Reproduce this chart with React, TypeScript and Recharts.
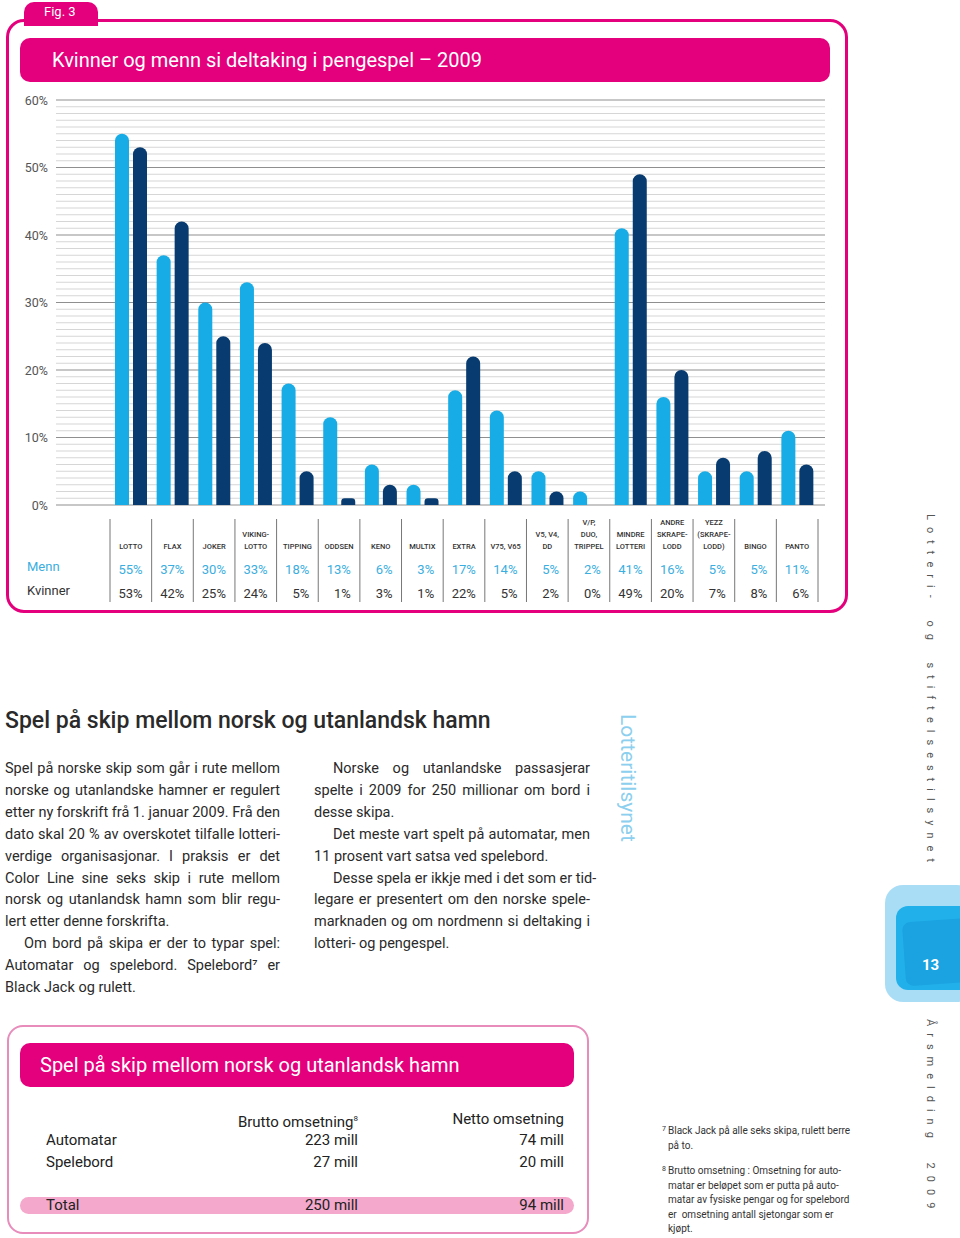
import React from 'react';
import { ComposedChart, Bar, XAxis, YAxis, CartesianGrid } from 'recharts';

// Kategoriar (linjeskift = ny linje i etiketten)
const categories = [
  'LOTTO', 'FLAX', 'JOKER', 'VIKING-\nLOTTO', 'TIPPING', 'ODDSEN', 'KENO', 'MULTIX', 'EXTRA',
  'V75, V65', 'V5, V4,\nDD', 'V/P,\nDUO,\nTRIPPEL', 'MINDRE\nLOTTERI', 'ANDRE\nSKRAPE-\nLODD',
  'YEZZ\n(SKRAPE-\nLODD)', 'BINGO', 'PANTO'
];
const menn = [55, 37, 30, 33, 18, 13, 6, 3, 17, 14, 5, 2, 41, 16, 5, 5, 11];
const kvinner = [53, 42, 25, 24, 5, 1, 3, 1, 22, 5, 2, 0, 49, 20, 7, 8, 6];
// rutenett kvar prosent, etikett kvar tiande
const yTicks = Array.from({ length: 61 }, (_, i) => i);

// Tabell: spel på skip
const tableRows = ['Automatar', 'Spelebord'];
const brutto = ['223 mill', '27 mill'];
const netto = ['74 mill', '20 mill'];
const totalRow = { label: 'Total', brutto: '250 mill', netto: '94 mill' };

const data = categories.map((c, i) => ({ cat: c, menn: menn[i], kvinner: kvinner[i] }));

const MAGENTA = '#e4007c';
const LIGHT = '#17ace6';
const DARK = '#083b70';
const FONT = "Roboto, 'Noto Sans', sans-serif";

const CategoryTick = (props: any) => {
  const { x, y, payload } = props;
  const i = payload.index;
  const half = payload.offset || 20.8;
  const lines = categories[i].split('\n');
  const last = i === categories.length - 1;
  return (
    <g>
      <line x1={x - half} x2={x - half} y1={y + 12} y2={y + 95} stroke="#777" strokeWidth={1} />
      {last && <line x1={x + half} x2={x + half} y1={y + 12} y2={y + 95} stroke="#777" strokeWidth={1} />}
      {lines.map((l, k) => (
        <text key={k} x={x} y={y + 42 - (lines.length - 1 - k) * 12} textAnchor="middle"
          fontSize={7.5} fontWeight={500} fill="#333" fontFamily={FONT}>{l}</text>
      ))}
      <text x={x + half - 9} y={y + 67} textAnchor="end" fontSize={13} fill="#3aaee0" fontFamily={FONT}>{menn[i]}%</text>
      <text x={x + half - 9} y={y + 91} textAnchor="end" fontSize={13} fill="#333" fontFamily={FONT}>{kvinner[i]}%</text>
    </g>
  );
};

const PercentTick = (props: any) => {
  const { x, y, payload } = props;
  if (payload.value % 10 !== 0) return <g />;
  return (
    <text x={x} y={y} dy={4.5} textAnchor="end" fontSize={12.5} fill="#555" fontFamily={FONT}>{payload.value}%</text>
  );
};

const GridLine = (props: any) => {
  const major = props.index % 10 === 0;
  return (
    <line x1={props.x1} x2={props.x2} y1={props.y1} y2={props.y2}
      stroke={major ? '#8f8f8f' : '#d6d6d6'} strokeWidth={1.2} />
  );
};

const leftLines: [string, boolean, boolean][] = [
  ['Spel på norske skip som går i rute mellom', false, false],
  ['norske og utanlandske hamner er regulert', false, false],
  ['etter ny forskrift frå 1. januar 2009. Frå den', false, false],
  ['dato skal 20 % av overskotet tilfalle lotteri-', false, false],
  ['verdige organisasjonar. I praksis er det', false, false],
  ['Color Line sine seks skip i rute mellom', false, false],
  ['norsk og utanlandsk hamn som blir regu-', false, false],
  ['lert etter denne forskrifta.', false, true],
  ['Om bord på skipa er der to typar spel:', true, false],
  ['Automatar og spelebord. Spelebord⁷ er', false, false],
  ['Black Jack og rulett.', false, true],
];
const rightLines: [string, boolean, boolean][] = [
  ['Norske og utanlandske passasjerar', true, false],
  ['spelte i 2009 for 250 millionar om bord i', false, false],
  ['desse skipa.', false, true],
  ['Det meste vart spelt på automatar, men', true, false],
  ['11 prosent vart satsa ved spelebord.', false, true],
  ['Desse spela er ikkje med i det som er tid-', true, false],
  ['legare er presentert om den norske spele-', false, false],
  ['marknaden og om nordmenn si deltaking i', false, false],
  ['lotteri- og pengespel.', false, true],
];

const Column = ({ lines, left, width }: { lines: [string, boolean, boolean][]; left: number; width: number }) => (
  <div style={{ position: 'absolute', left, top: 758, width, fontSize: 14.5, lineHeight: '21.9px', color: '#2a2a2a' }}>
    {lines.map(([t, indent, last], k) => (
      <div key={k} style={{ paddingLeft: indent ? 19 : 0, textAlign: 'justify', textAlignLast: last ? 'left' : 'justify', whiteSpace: 'nowrap' }}>{t}</div>
    ))}
  </div>
);

const footLines = [
  { sup: '7', text: 'Black Jack på alle seks skipa, rulett berre', top: 1124 },
  { sup: '', text: 'på to.', top: 1139 },
  { sup: '8', text: 'Brutto omsetning : Omsetning for auto-', top: 1164 },
  { sup: '', text: 'matar er beløpet som er putta på auto-', top: 1178.5 },
  { sup: '', text: 'matar av fysiske pengar og for spelebord', top: 1193 },
  { sup: '', text: 'er  omsetning antall sjetongar som er', top: 1207.5 },
  { sup: '', text: 'kjøpt.', top: 1222 },
];

const App = () => {
  return (
    <div style={{ position: 'absolute', left: 0, top: 0, width: 960, height: 1238, background: '#fff', overflow: 'hidden', fontFamily: FONT }}>
      {/* Fig. tab + ramme */}
      <div style={{ position: 'absolute', left: 24, top: 2, width: 74, height: 24, background: MAGENTA, borderRadius: '10px 10px 0 0' }} />
      <div style={{ position: 'absolute', left: 44, top: 3, fontSize: 13, color: '#fff', lineHeight: '17px' }}>Fig. 3</div>
      <div style={{ position: 'absolute', left: 6, top: 19, width: 836, height: 588, border: `3px solid ${MAGENTA}`, borderRadius: 18 }} />
      <div style={{ position: 'absolute', left: 20, top: 38, width: 810, height: 44, background: MAGENTA, borderRadius: 10 }} />
      <div style={{ position: 'absolute', left: 52, top: 47, fontSize: 20, color: '#fff', lineHeight: '26px' }}>Kvinner og menn si deltaking i pengespel – 2009</div>

      {/* Diagram */}
      <div style={{ position: 'absolute', left: 0, top: 90 }}>
        <ComposedChart width={830} height={520} data={data} margin={{ top: 10, right: 5, left: 0, bottom: 0 }}
          barSize={14} barGap={4}>
          <YAxis domain={[0, 60]} ticks={yTicks} interval={0} width={56} axisLine={false} tickLine={false}
            tick={<PercentTick />} />
          <XAxis dataKey="cat" interval={0} height={105} axisLine={false} tickLine={false} tickSize={0}
            padding={{ left: 54, right: 7 }} tick={<CategoryTick />} />
          <CartesianGrid vertical={false} horizontal={(p: any) => <GridLine key={p.key} {...p} />} />
          <Bar dataKey="menn" fill={LIGHT} radius={[7, 7, 0, 0]} isAnimationActive={false} />
          <Bar dataKey="kvinner" fill={DARK} radius={[7, 7, 0, 0]} isAnimationActive={false} />
        </ComposedChart>
      </div>
      <div style={{ position: 'absolute', left: 27, top: 559, fontSize: 13, color: '#3aaee0', lineHeight: '16px' }}>Menn</div>
      <div style={{ position: 'absolute', left: 27, top: 583, fontSize: 13, color: '#333', lineHeight: '16px' }}>Kvinner</div>

      {/* Tekst */}
      <div style={{ position: 'absolute', left: 5, top: 706, fontSize: 23, color: '#2a2a2a', lineHeight: '30px', fontWeight: 500 }}>Spel på skip mellom norsk og utanlandsk hamn</div>
      <Column lines={leftLines} left={5} width={275} />
      <Column lines={rightLines} left={314} width={276} />
      <div style={{ position: 'absolute', left: 617, top: 714, writingMode: 'vertical-rl', fontSize: 21, color: '#8ccfee', lineHeight: '22px' }}>Lotteritilsynet</div>

      {/* Høgre marg */}
      <div style={{ position: 'absolute', left: 922, top: 514, writingMode: 'vertical-rl', fontSize: 11, color: '#555', letterSpacing: 7, wordSpacing: 6, lineHeight: '16px' }}>Lotteri- og stiftelsestilsynet</div>
      <div style={{ position: 'absolute', left: 885, top: 885, width: 90, height: 117, background: '#a9ddf5', borderRadius: 18 }} />
      <div style={{ position: 'absolute', left: 896, top: 906, width: 80, height: 84, background: '#22b0ea', borderRadius: 12 }} />
      <div style={{ position: 'absolute', left: 904, top: 920, width: 70, height: 64, background: '#1aa3e0', borderRadius: 8, transform: 'rotate(-4deg)' }} />
      <div style={{ position: 'absolute', left: 922, top: 955, fontSize: 15, fontWeight: 700, color: '#fff', lineHeight: '20px' }}>13</div>
      <div style={{ position: 'absolute', left: 922, top: 1019, writingMode: 'vertical-rl', fontSize: 11, color: '#555', letterSpacing: 7, wordSpacing: 8, lineHeight: '16px' }}>Årsmelding 2009</div>

      {/* Tabellboks */}
      <div style={{ position: 'absolute', left: 7, top: 1025, width: 578, height: 205, border: '2px solid #e88cbb', borderRadius: 16 }} />
      <div style={{ position: 'absolute', left: 20, top: 1043, width: 554, height: 44, background: MAGENTA, borderRadius: 10 }} />
      <div style={{ position: 'absolute', left: 40, top: 1052, fontSize: 20, color: '#fff', lineHeight: '26px' }}>Spel på skip mellom norsk og utanlandsk hamn</div>
      <div style={{ position: 'absolute', left: 158, width: 200, top: 1109, fontSize: 15, color: '#222', textAlign: 'right', lineHeight: '20px' }}>
        Brutto omsetning<sup style={{ fontSize: 8 }}>8</sup>
      </div>
      <div style={{ position: 'absolute', left: 364, width: 200, top: 1109, fontSize: 15, color: '#222', textAlign: 'right', lineHeight: '20px' }}>Netto omsetning</div>
      {tableRows.map((r, k) => (
        <React.Fragment key={r}>
          <div style={{ position: 'absolute', left: 46, top: 1130 + k * 22, fontSize: 15, color: '#222', lineHeight: '20px' }}>{r}</div>
          <div style={{ position: 'absolute', left: 158, width: 200, top: 1130 + k * 22, fontSize: 15, color: '#222', textAlign: 'right', lineHeight: '20px' }}>{brutto[k]}</div>
          <div style={{ position: 'absolute', left: 364, width: 200, top: 1130 + k * 22, fontSize: 15, color: '#222', textAlign: 'right', lineHeight: '20px' }}>{netto[k]}</div>
        </React.Fragment>
      ))}
      <div style={{ position: 'absolute', left: 20, top: 1197, width: 554, height: 17, background: '#f3a8cc', borderRadius: 9 }} />
      <div style={{ position: 'absolute', left: 46, top: 1195, fontSize: 15, color: '#222', lineHeight: '20px' }}>{totalRow.label}</div>
      <div style={{ position: 'absolute', left: 158, width: 200, top: 1195, fontSize: 15, color: '#222', textAlign: 'right', lineHeight: '20px' }}>{totalRow.brutto}</div>
      <div style={{ position: 'absolute', left: 364, width: 200, top: 1195, fontSize: 15, color: '#222', textAlign: 'right', lineHeight: '20px' }}>{totalRow.netto}</div>

      {/* Fotnotar */}
      {footLines.map((f, k) => (
        <div key={k} style={{ position: 'absolute', left: 668, top: f.top, fontSize: 10, color: '#333', lineHeight: '14px', whiteSpace: 'pre' }}>
          {f.sup && <span style={{ position: 'absolute', left: -6, top: -2, fontSize: 7 }}>{f.sup}</span>}
          {f.text}
        </div>
      ))}
    </div>
  );
};

export default App;
